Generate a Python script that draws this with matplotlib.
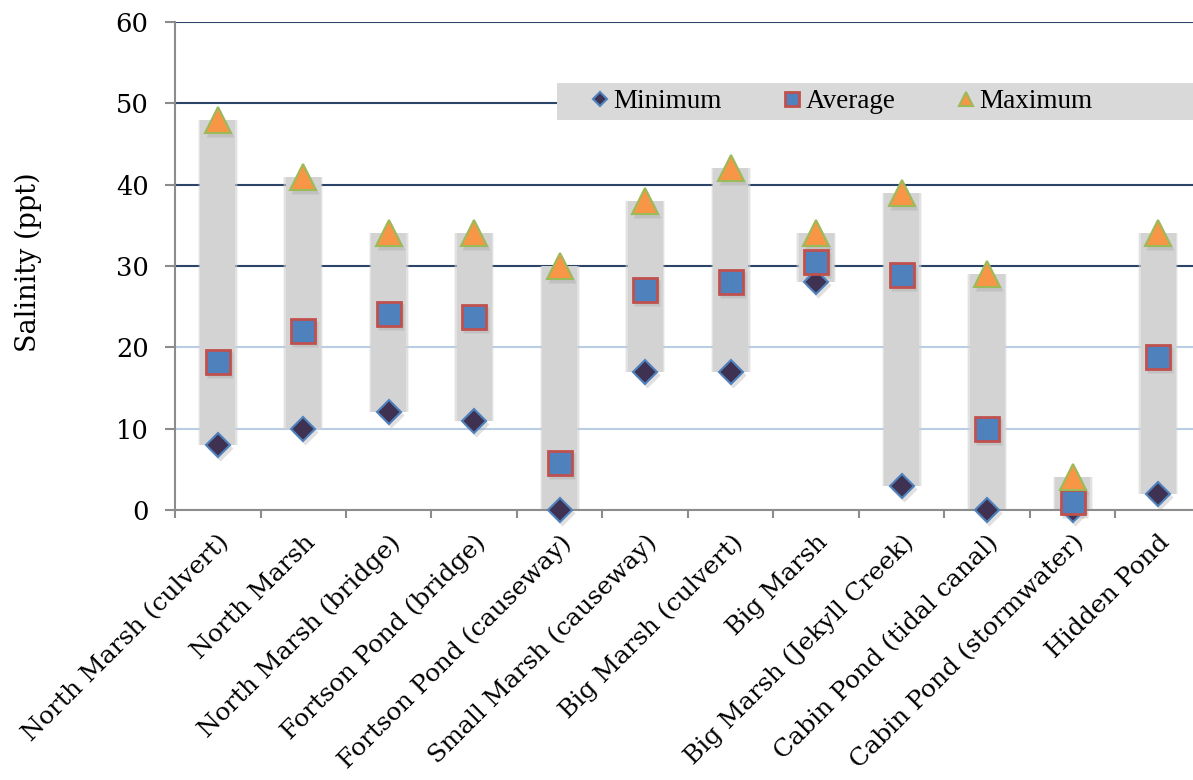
import numpy as np
import matplotlib
matplotlib.use("Agg")
import matplotlib.pyplot as plt
from matplotlib.patches import Rectangle
from matplotlib.transforms import offset_copy

sites = ["North Marsh (culvert)", "North Marsh", "North Marsh (bridge)",
         "Fortson Pond (bridge)", "Fortson Pond (causeway)", "Small Marsh (causeway)",
         "Big Marsh (culvert)", "Big Marsh", "Big Marsh (Jekyll Creek)",
         "Cabin Pond (tidal canal)", "Cabin Pond (stormwater)", "Hidden Pond"]
min_vals = [8, 10, 12, 11, 0, 17, 17, 28, 3, 0, 0, 2]
avg_vals = [18.2, 22, 24.1, 23.7, 5.8, 27, 28, 30.5, 28.9, 10, 1, 18.8]
max_vals = [48, 41, 34, 34, 30, 38, 42, 34, 39, 29, 4, 34]
yticks = [0, 10, 20, 30, 40, 50, 60]

W, H = 1193, 780
fig = plt.figure(figsize=(W / 100, H / 100), dpi=100)
ax = fig.add_axes([175 / W, 1 - 510 / H, 1026 / W, 488 / H])

x = np.arange(len(sites))
lo = np.array(min_vals)
hi = np.array(max_vals)

# grey range bars with a soft edge
for extra, a in [(0.06, 0.25), (0.03, 0.5)]:
    ax.bar(x, hi - lo, bottom=lo, width=0.41 + extra, color="#d0d0d0", alpha=a,
           linewidth=0, zorder=2)
ax.bar(x, hi - lo, bottom=lo, width=0.41, color="#d3d3d3", linewidth=0, zorder=2)

# faint drop shadows under the markers
shadow = offset_copy(ax.transData, fig=fig, x=2, y=-3, units="dots")
styles = [("D", 12.5, min_vals), ("s", 17.5, avg_vals), ("^", 19, max_vals)]
for m, ms, vals in styles:
    ax.plot(x, vals, ls="none", marker=m, ms=ms + 1, mfc="#9a9a9a", mec="none",
            alpha=0.3, transform=shadow, zorder=2.5, clip_on=False)

ax.plot(x, min_vals, ls="none", marker="D", ms=12.5, mfc="#3f3151", mec="#4f81bd",
        mew=1.5, zorder=3, clip_on=False, label="Minimum")
ax.plot(x, avg_vals, ls="none", marker="s", ms=17.5, mfc="#4f81bd", mec="#c0504d",
        mew=2, zorder=4, clip_on=False, label="Average")
ax.plot(x, max_vals, ls="none", marker="^", ms=19, mfc="#f79646", mec="#9bbb59",
        mew=1.5, zorder=5, clip_on=False, label="Maximum")

ax.set_xlim(-0.5, len(sites) - 0.5)
ax.set_ylim(0, 60)
ax.set_yticks(yticks)
ax.set_yticklabels([str(t) for t in yticks], family="DejaVu Serif", fontsize=18.5)
ax.yaxis.grid(True, zorder=1)
ax.set_axisbelow(True)
for t, gl in zip(yticks, ax.yaxis.get_gridlines()):
    gl.set_color("#2c4468" if t >= 30 else "#b9cde5")
    gl.set_linewidth(1.5)

ax.set_xticks(x)
ax.set_xticklabels(sites, rotation=45, ha="right", va="top", rotation_mode="anchor",
                   family="DejaVu Serif", fontsize=18)
ax.set_xticks(np.arange(len(sites) + 1) - 0.5, minor=True)
ax.tick_params(axis="x", which="major", length=0, pad=15)
ax.tick_params(axis="x", which="minor", length=6, width=1.5, color="#8c8c8c")
ax.tick_params(axis="y", length=7, width=1.5, color="#8c8c8c", pad=12)

for s in ["top", "right"]:
    ax.spines[s].set_visible(False)
for s in ["left", "bottom"]:
    ax.spines[s].set_color("#8c8c8c")
    ax.spines[s].set_linewidth(1.5)

ax.set_ylabel("Salinity (ppt)", family="DejaVu Serif", fontsize=19.5)
ax.yaxis.set_label_coords((42 - 175) / 1026, (510 - 262) / 488)

# legend band
ax.add_patch(Rectangle(((557 - 175) / 1026, (510 - 120) / 488), 1, 37 / 488,
                       transform=ax.transAxes, color="#d9d9d9", lw=0,
                       clip_on=False, zorder=6))
leg = ax.legend(loc="center left", bbox_to_anchor=((578 - 175) / 1026, (510 - 101.5) / 488),
                ncol=3, frameon=False, markerscale=0.55, handlelength=0.6,
                handletextpad=0.2, columnspacing=2.3, borderpad=0,
                prop={"family": "Liberation Serif", "size": 19.5})
leg.set_zorder(7)

fig.savefig("out.png", dpi=100)
